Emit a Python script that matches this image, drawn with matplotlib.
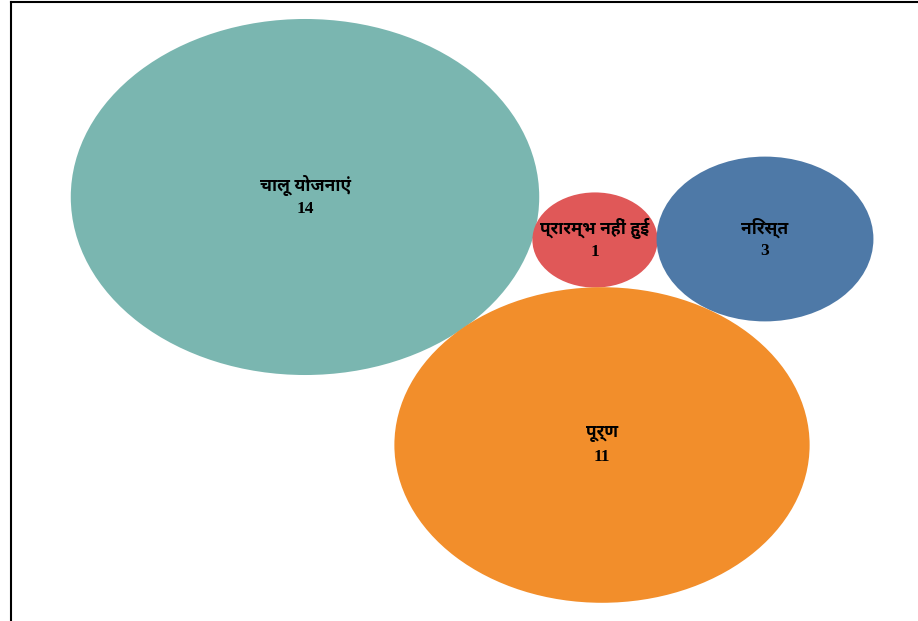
import matplotlib
matplotlib.use("Agg")
import matplotlib.pyplot as plt
from matplotlib.patches import Ellipse
from matplotlib import font_manager as fm
import numpy as np
import os

# Data
categories = ["चालू योजनाएं", "प्रारम्भ नहीं हुई", "निरस्त", "पूर्ण"]
values = [14, 1, 3, 11]
colors = ["#7ab6b0", "#e05858", "#4e79a7", "#f28e2b"]
# bubble layout centres (packing positions, in pixel-like layout units)
cx = [305, 595, 765, 602]
cy = [197, 240, 239, 445]

# find a static bold Devanagari font file
prefs = ["NotoSerifDevanagari-Bold.", "NotoSansDevanagari-Bold.", "NotoSansDevanagariUI-Bold.",
         "Martel-Bold.", "Palanquin-Bold."]
files = fm.findSystemFonts()
deva_file = None
for p in prefs:
    for f in files:
        if os.path.basename(f).startswith(p):
            deva_file = f
            break
    if deva_file:
        break

def pick_family(cands):
    for c in cands:
        try:
            fm.findfont(fm.FontProperties(family=c), fallback_to_default=False)
            return c
        except Exception:
            continue
    return "DejaVu Serif"

serif = pick_family(["Liberation Serif", "DejaVu Serif"])
if deva_file:
    label_fp = fm.FontProperties(fname=deva_file, size=12.5)
else:
    label_fp = fm.FontProperties(family=["Noto Serif Devanagari", serif], size=13, weight="bold")
num_fp = fm.FontProperties(family=[serif], size=12.5, weight="bold")

fig = plt.figure(figsize=(9.18, 6.21), dpi=100)
ax = fig.add_axes([11 / 918, 0, 907 / 918, 619 / 621])
ax.set_xlim(11, 918)
ax.set_ylim(621, 2)

k = 62.6          # horizontal radius scale (area proportional)
aspect = 0.76     # vertical / horizontal stretch
for c, v, col, x, y in zip(categories, values, colors, cx, cy):
    r = k * np.sqrt(v)
    ax.add_patch(Ellipse((x, y), 2 * r, 2 * r * aspect, facecolor=col, edgecolor="none"))
    ax.text(x, y - 11, c, ha="center", va="center", fontproperties=label_fp, color="black")
    ax.text(x, y + 12, str(v), ha="center", va="center", fontproperties=num_fp, color="black")

ax.set_xticks([])
ax.set_yticks([])
for s in ["right", "bottom"]:
    ax.spines[s].set_visible(False)
for s in ["left", "top"]:
    ax.spines[s].set_linewidth(1.5)
    ax.spines[s].set_color("black")

fig.savefig("out.png", dpi=100)
